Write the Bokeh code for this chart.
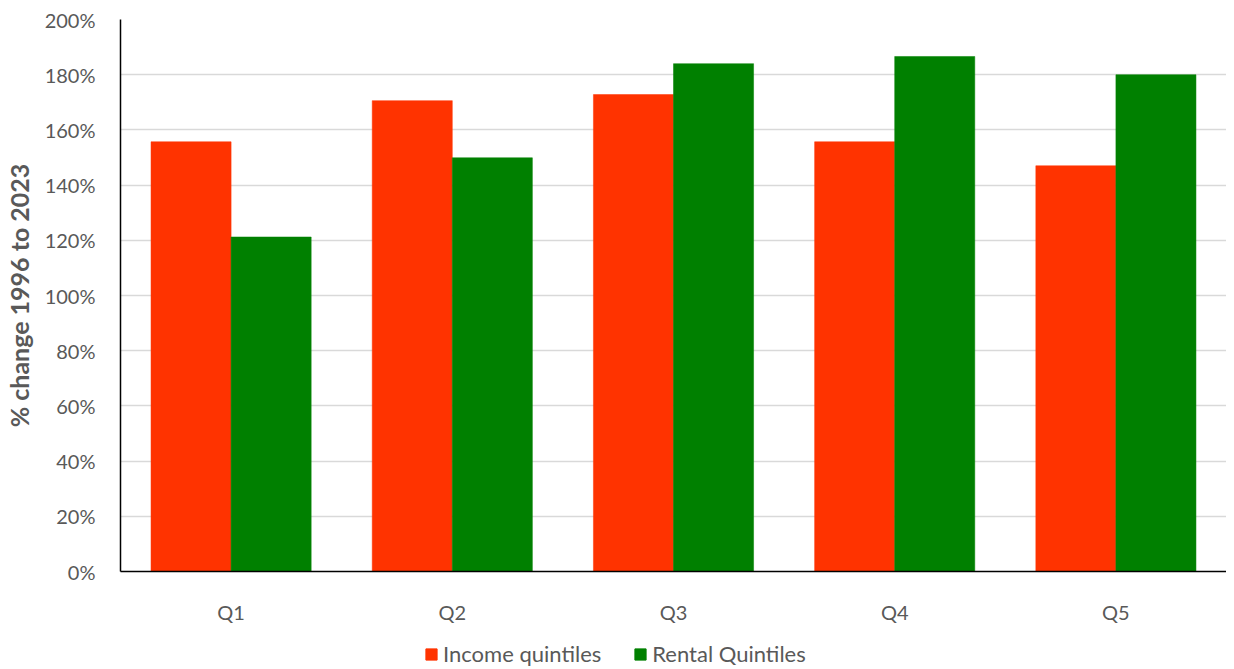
from bokeh.plotting import figure
from bokeh.layouts import column
from bokeh.models import FactorRange, Range1d, Legend, LegendItem, ColumnDataSource, FixedTicker, PrintfTickFormatter
from bokeh.transform import dodge
from bokeh.embed import file_html
from bokeh.resources import INLINE

categories = ["Q1", "Q2", "Q3", "Q4", "Q5"]
income = [155.7, 170.6, 172.8, 155.7, 147.0]
rental = [121.2, 149.9, 184.0, 186.6, 180.0]
y_ticks = [0, 20, 40, 60, 80, 100, 120, 140, 160, 180, 200]
series_labels = ["Income quintiles", "Rental Quintiles"]

FONT = "Lato"
TXT = "#595959"
RED = "#FF3300"
GREEN = "#008000"

src = ColumnDataSource(dict(cat=categories, income=income, rental=rental))

W = 1226
p = figure(width=W, height=631, output_backend="svg", toolbar_location=None,
           x_range=FactorRange(*categories, range_padding=0), y_range=Range1d(0, 200),
           min_border_left=115, min_border_right=0, min_border_top=19, min_border_bottom=60)
p.outline_line_color = None

bw = 0.362
p.vbar(x=dodge("cat", -bw / 2, range=p.x_range), top="income", width=bw, source=src,
       fill_color=RED, line_color=RED, line_width=0.5)
p.vbar(x=dodge("cat", bw / 2, range=p.x_range), top="rental", width=bw, source=src,
       fill_color=GREEN, line_color=GREEN, line_width=0.5)

p.xgrid.grid_line_color = None
p.ygrid.grid_line_color = "#d9d9d9"
p.ygrid.grid_line_width = 1.3
p.yaxis.ticker = FixedTicker(ticks=y_ticks)
p.yaxis.formatter = PrintfTickFormatter(format="%d%%")

for ax in (p.xaxis[0], p.yaxis[0]):
    ax.axis_line_color = "black"
    ax.axis_line_width = 1.5
    ax.major_tick_line_color = None
    ax.minor_tick_line_color = None
    ax.major_label_text_font = FONT
    ax.major_label_text_font_size = "20px"
    ax.major_label_text_color = TXT

p.yaxis.major_label_standoff = 19
p.xaxis.major_label_standoff = 22
p.yaxis.axis_label = "% change 1996 to 2023"
p.yaxis.axis_label_text_font = FONT
p.yaxis.axis_label_text_font_size = "25px"
p.yaxis.axis_label_text_font_style = "bold"
p.yaxis.axis_label_text_color = TXT
p.yaxis.axis_label_standoff = 8

# legend strip (frame aligned with the main figure's frame by the column layout)
lf = figure(width=W, height=38, output_backend="svg", toolbar_location=None,
            x_axis_type=None, y_axis_type=None, x_range=Range1d(0, 1), y_range=Range1d(0, 1),
            min_border_left=115, min_border_right=0, min_border_top=0, min_border_bottom=0)
lf.outline_line_color = None
lf.xgrid.visible = False
lf.ygrid.visible = False
d1 = lf.vbar(x=[5], top=[5], width=0.1, fill_color=RED, line_color=RED)
d2 = lf.vbar(x=[5], top=[5], width=0.1, fill_color=GREEN, line_color=GREEN)
legend = Legend(items=[LegendItem(label=series_labels[0], renderers=[d1]),
                       LegendItem(label=series_labels[1], renderers=[d2])],
                orientation="horizontal", location=(304, 2))
legend.label_text_font = FONT
legend.label_text_font_size = "22px"
legend.label_text_color = TXT
legend.glyph_width = 14
legend.glyph_height = 14
legend.label_standoff = 5
legend.spacing = 32
legend.padding = 0
legend.margin = 0
legend.border_line_color = None
legend.background_fill_alpha = 0
lf.add_layout(legend, "center")

layout = column(p, lf, spacing=0)
open("out.html", "w").write(file_html(layout, INLINE))
